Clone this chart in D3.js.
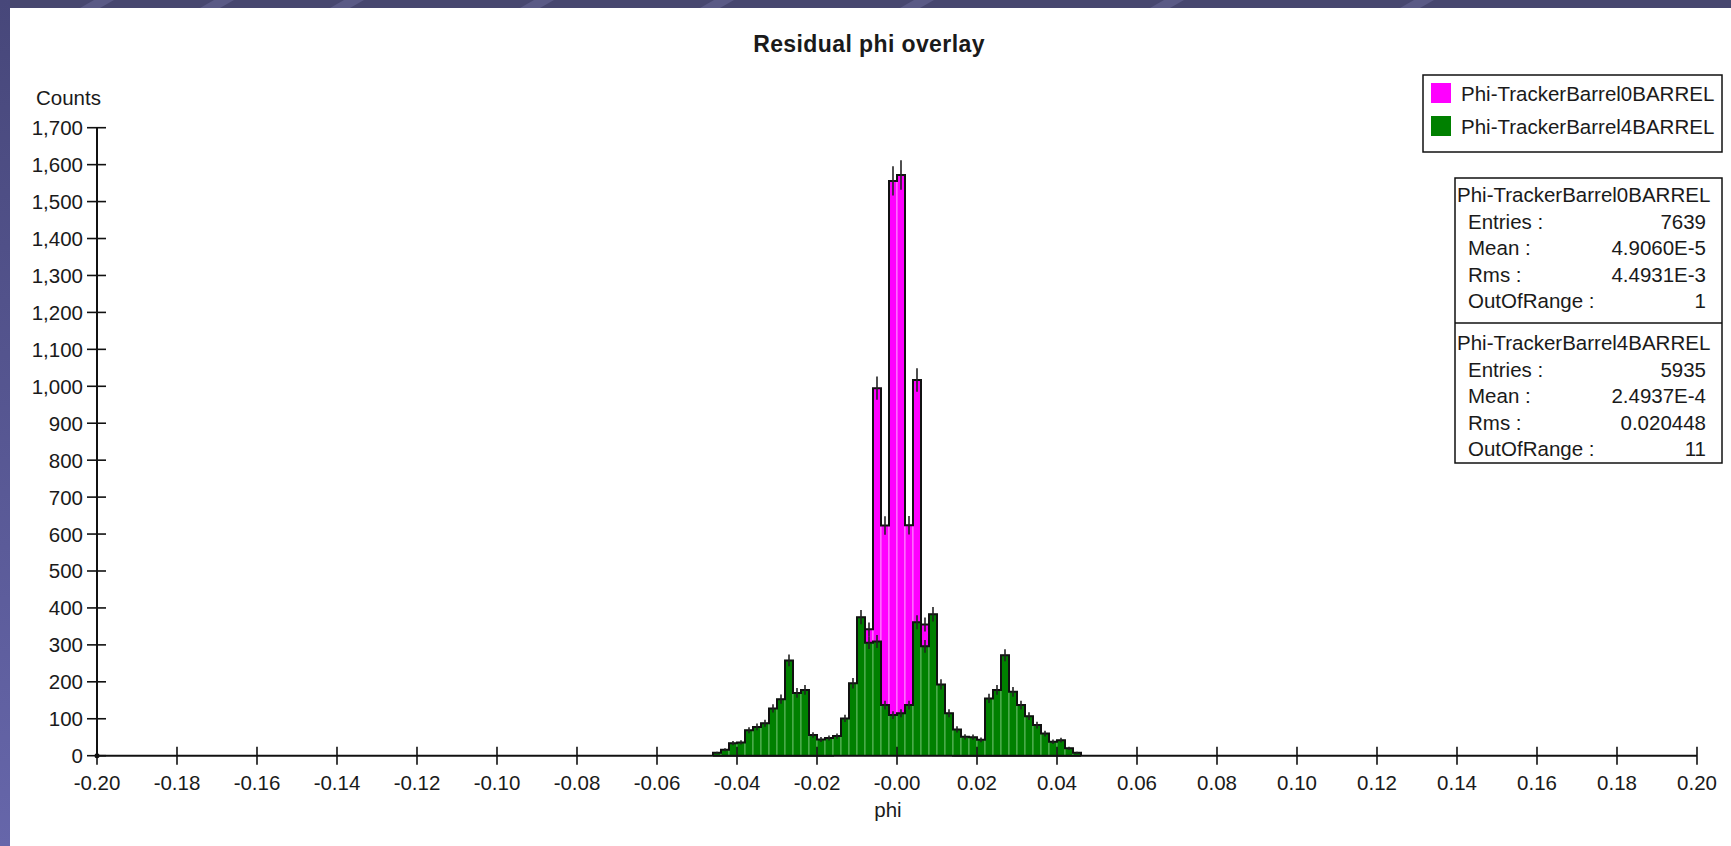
<!DOCTYPE html>
<html>
<head>
<meta charset="utf-8">
<script src="https://cdnjs.cloudflare.com/ajax/libs/d3/7.8.5/d3.min.js"></script>
<style>
    html, body { margin: 0; padding: 0; background: #47476f; }
    svg { display: block; }
    text { font-family: "Liberation Sans", Arial, sans-serif; fill: #1a1a1a; }
</style>
</head>
<body>
<svg id="chart" width="1731" height="846"></svg>
<script>
// lower edges of the non-empty bins (bin width 0.002)
var binLow = [
    -0.046, -0.044, -0.042, -0.040, -0.038, -0.036, -0.034, -0.032, -0.030, -0.028,
    -0.026, -0.024, -0.022, -0.020, -0.018, -0.016, -0.014, -0.012, -0.010, -0.008,
    -0.006, -0.004, -0.002, 0.000, 0.002, 0.004, 0.006, 0.008, 0.010, 0.012,
    0.014, 0.016, 0.018, 0.020, 0.022, 0.024, 0.026, 0.028, 0.030, 0.032,
    0.034, 0.036, 0.038, 0.040, 0.042, 0.044
];
var binWidth = 0.002;

var barrel0Counts = [
    0, 0, 0, 0, 0, 0, 0, 0, 0, 0,
    0, 0, 0, 0, 0, 5, 8, 50, 150, 342,
    995, 623, 1556, 1572, 624, 1017, 355, 160, 50, 9,
    0, 0, 0, 0, 0, 0, 0, 0, 0, 0,
    0, 0, 0, 0, 0, 0
];

var barrel4Counts = [
    8, 16, 34, 36, 69, 78, 88, 128, 153, 258,
    170, 178, 56, 44, 48, 53, 101, 196, 375, 306,
    309, 137, 110, 115, 137, 361, 296, 383, 193, 115,
    71, 51, 50, 43, 155, 178, 272, 173, 137, 107,
    83, 60, 38, 42, 20, 8
];

var xTicks = [-0.20, -0.18, -0.16, -0.14, -0.12, -0.10, -0.08, -0.06, -0.04, -0.02,
    0.00, 0.02, 0.04, 0.06, 0.08, 0.10, 0.12, 0.14, 0.16, 0.18, 0.20];
var xTickLabels = ["-0.20", "-0.18", "-0.16", "-0.14", "-0.12", "-0.10", "-0.08", "-0.06", "-0.04", "-0.02",
    "-0.00", "0.02", "0.04", "0.06", "0.08", "0.10", "0.12", "0.14", "0.16", "0.18", "0.20"];
var yTicks = [0, 100, 200, 300, 400, 500, 600, 700, 800, 900, 1000,
    1100, 1200, 1300, 1400, 1500, 1600, 1700];

var seriesNames = ["Phi-TrackerBarrel0BARREL", "Phi-TrackerBarrel4BARREL"];
var seriesColors = ["#ff00ff", "#008000"];
var seriesLight = ["#ff8cff", "#62b862"];

var statLabels = ["Entries :", "Mean :", "Rms :", "OutOfRange :"];
var barrel0Stats = ["7639", "4.9060E-5", "4.4931E-3", "1"];
var barrel4Stats = ["5935", "2.4937E-4", "0.020448", "11"];

var svg = d3.select("#chart");

// slide background
var defs = svg.append("defs");
var grad = defs.append("linearGradient")
    .attr("id", "leftStrip")
    .attr("x1", 0).attr("y1", 0).attr("x2", 0).attr("y2", 1);
grad.append("stop").attr("offset", "0%").attr("stop-color", "#47477a");
grad.append("stop").attr("offset", "100%").attr("stop-color", "#6666aa");

svg.append("rect")
    .attr("width", 1731).attr("height", 846)
    .attr("fill", "#47476f");
svg.append("g")
    .selectAll("path")
    .data([80, 200, 330, 520, 700, 900, 1150, 1400])
    .enter().append("path")
    .attr("d", function (d) { return "M" + d + ",8L" + (d + 14) + ",0L" + (d + 34) + ",0L" + (d + 20) + ",8Z"; })
    .attr("fill", "#5a5a86");
svg.append("rect")
    .attr("x", 0).attr("y", 0).attr("width", 10).attr("height", 846)
    .attr("fill", "url(#leftStrip)");
svg.append("rect")
    .attr("x", 10).attr("y", 8).attr("width", 1721).attr("height", 838)
    .attr("fill", "#ffffff");

var x = d3.scaleLinear().domain([-0.2, 0.2]).range([97, 1697]);
var y = d3.scaleLinear().domain([0, 1700]).range([755.7, 127.7]);

// title and axis titles
svg.append("text")
    .attr("x", 869).attr("y", 52)
    .attr("text-anchor", "middle")
    .style("font-size", "23px")
    .style("letter-spacing", "0.4px")
    .style("font-weight", "bold")
    .text("Residual phi overlay");

svg.append("text")
    .attr("x", 36).attr("y", 105)
    .style("font-size", "20.5px")
    .text("Counts");

svg.append("text")
    .attr("x", 888).attr("y", 817)
    .attr("text-anchor", "middle")
    .style("font-size", "20.5px")
    .text("phi");

// histograms
var series = [barrel0Counts, barrel4Counts];

series.forEach(function (counts, si) {
    var bins = binLow.map(function (lo, i) {
        return {lo: lo, hi: lo + binWidth, v: counts[i]};
    });
    var g = svg.append("g").attr("class", "hist" + si);

    g.selectAll("rect")
        .data(bins.filter(function (d) { return d.v > 0; }))
        .enter().append("rect")
        .attr("x", function (d) { return x(d.lo); })
        .attr("y", function (d) { return y(d.v); })
        .attr("width", function (d) { return x(d.hi) - x(d.lo); })
        .attr("height", function (d) { return y(0) - y(d.v); })
        .attr("fill", seriesColors[si])
        .attr("stroke", seriesLight[si])
        .attr("stroke-width", 1);

    var pts = [[x(bins[0].lo), y(0)]];
    bins.forEach(function (d) {
        pts.push([x(d.lo), y(d.v)]);
        pts.push([x(d.hi), y(d.v)]);
    });
    pts.push([x(bins[bins.length - 1].hi), y(0)]);

    g.append("path")
        .attr("d", d3.line()(pts))
        .attr("fill", "none")
        .attr("stroke", "#111")
        .attr("stroke-width", 2);

    g.selectAll("line.err")
        .data(bins.filter(function (d) { return d.v > 0; }))
        .enter().append("line")
        .attr("class", "err")
        .attr("x1", function (d) { return x((d.lo + d.hi) / 2); })
        .attr("x2", function (d) { return x((d.lo + d.hi) / 2); })
        .attr("y1", function (d) { return y(d.v + Math.sqrt(d.v)); })
        .attr("y2", function (d) { return y(Math.max(0, d.v - Math.sqrt(d.v))); })
        .attr("stroke", "#222")
        .attr("stroke-width", 1.6);
});

// axes
var axes = svg.append("g").attr("class", "axes");

axes.append("line")
    .attr("x1", x(-0.2)).attr("x2", x(0.2))
    .attr("y1", y(0)).attr("y2", y(0))
    .attr("stroke", "#111").attr("stroke-width", 2);
axes.append("line")
    .attr("x1", x(-0.2)).attr("x2", x(-0.2))
    .attr("y1", y(0)).attr("y2", y(1700))
    .attr("stroke", "#111").attr("stroke-width", 2);

axes.selectAll("line.xt")
    .data(xTicks)
    .enter().append("line")
    .attr("class", "xt")
    .attr("x1", function (d) { return x(d); })
    .attr("x2", function (d) { return x(d); })
    .attr("y1", y(0) - 9).attr("y2", y(0) + 9)
    .attr("stroke", "#111").attr("stroke-width", 1.6);

axes.selectAll("text.xl")
    .data(xTicks)
    .enter().append("text")
    .attr("class", "xl")
    .attr("x", function (d) { return x(d); })
    .attr("y", 790)
    .attr("text-anchor", "middle")
    .style("font-size", "20.5px")
    .text(function (d, i) { return xTickLabels[i]; });

axes.selectAll("line.yt")
    .data(yTicks)
    .enter().append("line")
    .attr("class", "yt")
    .attr("x1", x(-0.2) - 10).attr("x2", x(-0.2) + 9)
    .attr("y1", function (d) { return y(d); })
    .attr("y2", function (d) { return y(d); })
    .attr("stroke", "#111").attr("stroke-width", 1.6);

axes.selectAll("text.yl")
    .data(yTicks)
    .enter().append("text")
    .attr("class", "yl")
    .attr("x", 83)
    .attr("y", function (d) { return y(d) + 7.5; })
    .attr("text-anchor", "end")
    .style("font-size", "20.5px")
    .text(function (d) { return d3.format(",")(d); });

axes.append("circle")
    .attr("cx", x(-0.2)).attr("cy", y(0))
    .attr("r", 2.5).attr("fill", "#111");

// legend
var legend = svg.append("g").attr("class", "legend");
legend.append("rect")
    .attr("x", 1423).attr("y", 75).attr("width", 299).attr("height", 77)
    .attr("fill", "#fff").attr("stroke", "#111").attr("stroke-width", 1.5);
legend.selectAll("rect.sw")
    .data(seriesNames)
    .enter().append("rect")
    .attr("class", "sw")
    .attr("x", 1431)
    .attr("y", function (d, i) { return 83 + i * 33; })
    .attr("width", 20).attr("height", 20)
    .attr("fill", function (d, i) { return seriesColors[i]; });
legend.selectAll("text")
    .data(seriesNames)
    .enter().append("text")
    .attr("x", 1461)
    .attr("y", function (d, i) { return 101 + i * 33; })
    .style("font-size", "20.5px")
    .text(function (d) { return d; });

// statistics boxes
var stats = [barrel0Stats, barrel4Stats];
var statBox = svg.append("g").attr("class", "stats");
statBox.append("rect")
    .attr("x", 1455).attr("y", 178).attr("width", 267).attr("height", 285)
    .attr("fill", "#fff").attr("stroke", "#111").attr("stroke-width", 1.5);
statBox.append("line")
    .attr("x1", 1455).attr("x2", 1722).attr("y1", 323).attr("y2", 323)
    .attr("stroke", "#111").attr("stroke-width", 1.5);

stats.forEach(function (vals, si) {
    var top = 202 + si * 148;
    statBox.append("text")
        .attr("x", 1457).attr("y", top)
        .style("font-size", "20.5px")
        .text(seriesNames[si]);
    statLabels.forEach(function (lab, r) {
        statBox.append("text")
            .attr("x", 1468).attr("y", top + 26.5 * (r + 1))
            .style("font-size", "20.5px")
            .text(lab);
        statBox.append("text")
            .attr("x", 1706).attr("y", top + 26.5 * (r + 1))
            .attr("text-anchor", "end")
            .style("font-size", "20.5px")
            .text(vals[r]);
    });
});
</script>
</body>
</html>
